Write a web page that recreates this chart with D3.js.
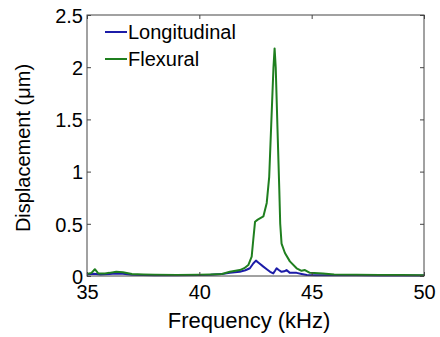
<!DOCTYPE html>
<html>
<head>
<meta charset="utf-8">
<script src="https://cdn.jsdelivr.net/npm/d3@7"></script>
<style>
  body { margin: 0; background: #fff; }
  text { font-family: "Liberation Sans", Arial, sans-serif; fill: #000; }
</style>
</head>
<body>
<svg id="chart" width="440" height="337"></svg>
<script>
// frequency (kHz) and displacement (um)
const freqLong = [35.0, 35.3, 35.6, 36.0, 36.3, 36.6, 37.0, 37.5, 38.0, 39.0, 40.0, 40.5, 41.0, 41.36, 41.8, 42.05, 42.25, 42.4, 42.52, 42.65, 42.85, 43.0, 43.15, 43.29, 43.37, 43.44, 43.52, 43.66, 43.78, 43.88, 44.03, 44.33, 44.55, 44.78, 45.2, 46.0, 47.0, 48.0, 49.0, 50.0];
const dispLong = [0.015, 0.022, 0.015, 0.02, 0.025, 0.022, 0.012, 0.01, 0.008, 0.008, 0.01, 0.012, 0.018, 0.03, 0.04, 0.055, 0.074, 0.12, 0.147, 0.125, 0.09, 0.065, 0.04, 0.025, 0.05, 0.074, 0.06, 0.04, 0.045, 0.057, 0.03, 0.03, 0.02, 0.01, 0.008, 0.006, 0.006, 0.005, 0.005, 0.004];

const freqFlex = [35.0, 35.2, 35.35, 35.5, 35.8, 36.0, 36.3, 36.6, 37.0, 37.5, 38.0, 39.0, 40.0, 40.5, 41.0, 41.36, 41.8, 42.0, 42.18, 42.33, 42.4, 42.48, 42.6, 42.85, 43.0, 43.11, 43.2, 43.3, 43.35, 43.4, 43.48, 43.56, 43.6, 43.66, 43.81, 44.03, 44.33, 44.55, 44.7, 44.92, 45.5, 46.0, 47.0, 48.0, 49.0, 50.0];
const dispFlex = [0.02, 0.03, 0.065, 0.025, 0.025, 0.03, 0.04, 0.035, 0.02, 0.015, 0.012, 0.01, 0.012, 0.015, 0.02, 0.04, 0.057, 0.075, 0.105, 0.185, 0.345, 0.52, 0.54, 0.57, 0.70, 0.95, 1.45, 2.0, 2.18, 2.0, 1.4, 0.82, 0.5, 0.31, 0.22, 0.14, 0.074, 0.05, 0.057, 0.03, 0.025, 0.015, 0.012, 0.01, 0.01, 0.008];

const xTicks = [35, 40, 45, 50];
const yTicks = [0, 0.5, 1, 1.5, 2, 2.5];
const seriesNames = ['Longitudinal', 'Flexural'];
const seriesColors = ['#1c1ca8', '#1f7f1f'];

const svg = d3.select('#chart');
const mLeft = 87, mRight = 424, mTop = 15, mBottom = 276;

const x = d3.scaleLinear().domain([35, 50]).range([mLeft, mRight]);
const y = d3.scaleLinear().domain([0, 2.5]).range([mBottom, mTop]);

// lines
const line = d3.line()
    .x(d => x(d[0]))
    .y(d => y(d[1]));

const series = [
    d3.zip(freqLong, dispLong),
    d3.zip(freqFlex, dispFlex)
];

svg.append('g')
    .selectAll('path')
    .data(series)
    .join('path')
    .attr('d', line)
    .attr('fill', 'none')
    .attr('stroke', (d, i) => seriesColors[i])
    .attr('stroke-width', 2)
    .attr('stroke-linejoin', 'round');

// box with inward ticks on all sides
const tickLen = 4;
const axisColor = '#444';
svg.append('rect')
    .attr('x', mLeft).attr('y', mTop)
    .attr('width', mRight - mLeft).attr('height', mBottom - mTop)
    .attr('fill', 'none').attr('stroke', axisColor).attr('stroke-width', 1);

const axX = svg.append('g').attr('transform', 'translate(0,' + mBottom + ')')
    .call(d3.axisBottom(x).tickValues(xTicks).tickSizeInner(-tickLen).tickSizeOuter(0).tickFormat(d3.format('d')));
const axXt = svg.append('g').attr('transform', 'translate(0,' + mTop + ')')
    .call(d3.axisTop(x).tickValues(xTicks).tickSizeInner(-tickLen).tickSizeOuter(0).tickFormat(''));
const axY = svg.append('g').attr('transform', 'translate(' + mLeft + ',0)')
    .call(d3.axisLeft(y).tickValues(yTicks).tickSizeInner(-tickLen).tickSizeOuter(0).tickFormat(d => String(d)));
const axYr = svg.append('g').attr('transform', 'translate(' + mRight + ',0)')
    .call(d3.axisRight(y).tickValues(yTicks).tickSizeInner(-tickLen).tickSizeOuter(0).tickFormat(''));

[axX, axXt, axY, axYr].forEach(a => {
    a.select('.domain').remove();
    a.selectAll('line').attr('stroke', axisColor);
    a.selectAll('text')
        .style('font-size', '20px')
        .style('font-family', '"Liberation Sans", Arial, sans-serif')
        .attr('fill', '#000');
});
axX.selectAll('text').attr('y', 9).attr('dy', '0.71em');
axY.selectAll('text').attr('x', -4).attr('dy', '0.36em');

// axis labels
svg.append('text')
    .attr('x', 249).attr('y', 328)
    .attr('text-anchor', 'middle')
    .style('font-size', '22px')
    .text('Frequency (kHz)');

svg.append('text')
    .attr('transform', 'translate(30,148) rotate(-90)')
    .attr('text-anchor', 'middle')
    .style('font-size', '20px')
    .text('Displacement (\u03bcm)');

// legend
const legend = svg.append('g')
    .selectAll('g')
    .data(seriesNames)
    .join('g')
    .attr('transform', (d, i) => 'translate(105,' + (32 + i * 27) + ')');

legend.append('line')
    .attr('x1', 0).attr('x2', 22)
    .attr('stroke', (d, i) => seriesColors[i])
    .attr('stroke-width', 2);

legend.append('text')
    .attr('x', 23).attr('y', 7)
    .style('font-size', '20px')
    .text(d => d);
</script>
</body>
</html>
